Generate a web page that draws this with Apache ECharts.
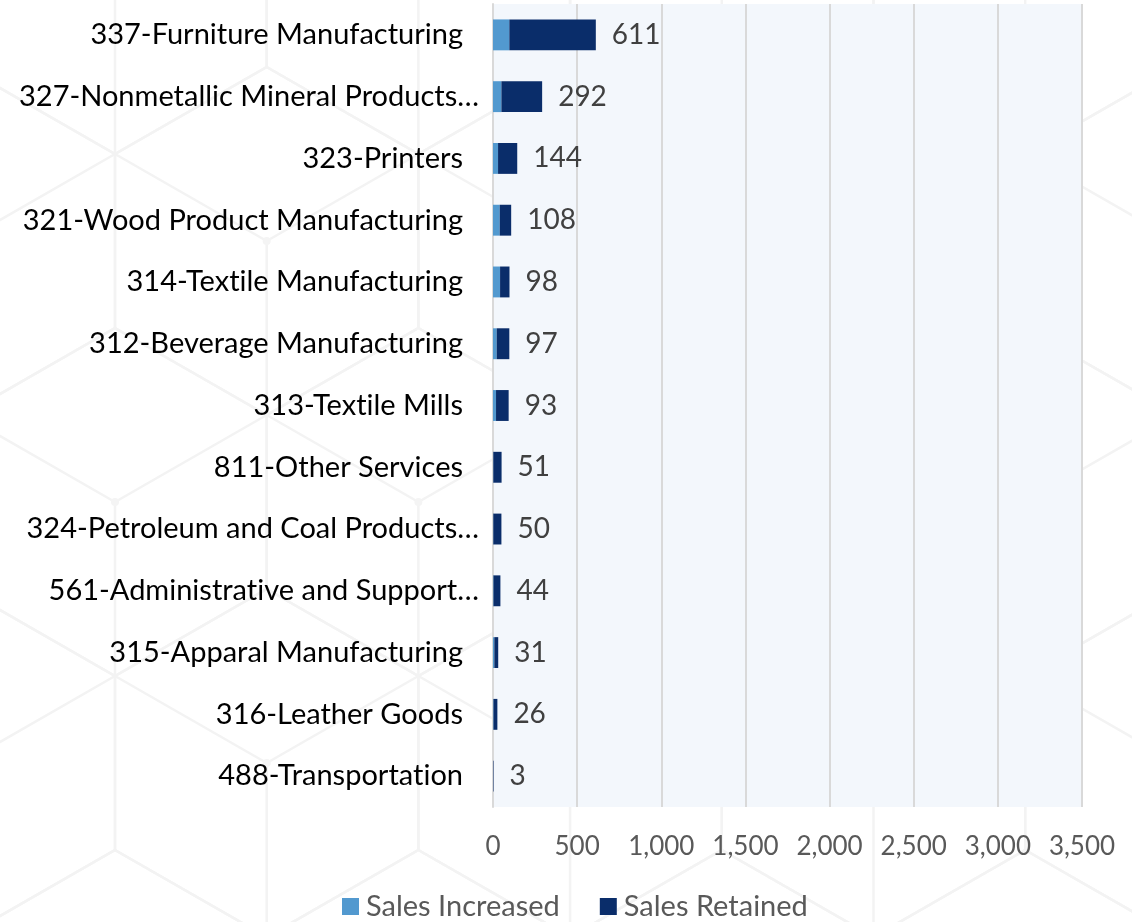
<!DOCTYPE html>
<html>
<head>
<meta charset="utf-8">
<script src="https://cdn.jsdelivr.net/npm/echarts@6/dist/echarts.min.js"></script>
<style>
  html, body { margin: 0; padding: 0; background: #ffffff; }
  #chart { width: 1132px; height: 922px; }
</style>
</head>
<body>
<div id="chart"></div>
<script>
// Industry categories, top to bottom
const categories = [
  '337-Furniture Manufacturing',
  '327-Nonmetallic Mineral Products…',
  '323-Printers',
  '321-Wood Product Manufacturing',
  '314-Textile Manufacturing',
  '312-Beverage Manufacturing',
  '313-Textile Mills',
  '811-Other Services',
  '324-Petroleum and Coal Products…',
  '561-Administrative and Support…',
  '315-Apparal Manufacturing',
  '316-Leather Goods',
  '488-Transportation'
];

// Total businesses per industry (shown at the end of each bar)
const totals = [611, 292, 144, 108, 98, 97, 93, 51, 50, 44, 31, 26, 3];

// Businesses whose sales increased
const salesIncreased = [97, 50, 30, 40, 42, 22, 18, 2, 2, 3, 8, 3, 0];

// Remaining part of each total: businesses whose sales were retained
const salesRetained = totals.map((t, i) => t - salesIncreased[i]);

const xTicks = { min: 0, max: 3500, interval: 500 };

const FONT = 'Lato';

// Break the "ti" ligature that Lato would otherwise draw
const noLig = s => String(s).replace(/ti/g, 't\u200Ci').replace(/fi/g, 'f\u200Ci');

// Category axis runs top to bottom, so reverse for ECharts' bottom-up ordering.
// Shortened names let their ellipsis hang a little past the label edge.
const cats = categories.slice().reverse().map(c =>
  c.endsWith('…') ? { value: c, textStyle: { padding: [0, -16, 0, 0] } } : c
);
const inc = salesIncreased.slice().reverse();
const ret = salesRetained.slice().reverse();
const tot = totals.slice().reverse();

// Faint hexagon / cube backdrop pattern
function hexPattern() {
  const s = 174, hw = 151.7, rowH = 261;
  const items = [];
  const stroke = { stroke: '#F3F3F3', lineWidth: 2.5, lineCap: 'round' };
  for (let n = -1; n <= 5; n++) {
    const cy = 1024 - rowH * n;
    const off = (n % 2 !== 0) ? hw : 0;
    for (let k = -2; k <= 5; k++) {
      const cx = 115 + off + 2 * hw * k;
      const v = [
        [cx, cy - s], [cx + hw, cy - s / 2], [cx + hw, cy + s / 2],
        [cx, cy + s], [cx - hw, cy + s / 2], [cx - hw, cy - s / 2]
      ];
      items.push({
        type: 'polygon', silent: true, z: -100,
        shape: { points: v },
        style: Object.assign({ fill: 'none' }, stroke)
      });
      // inner lines: centre to upper-left, upper-right and bottom corners
      [v[5], v[1], v[3]].forEach(p => items.push({
        type: 'line', silent: true, z: -100,
        shape: { x1: cx, y1: cy, x2: p[0], y2: p[1] },
        style: stroke
      }));
      items.push({
        type: 'circle', silent: true, z: -100,
        shape: { cx: cx, cy: cy, r: 4 },
        style: { fill: '#F4F4F4' }
      });
    }
  }
  return items;
}

const chart = echarts.init(document.getElementById('chart'), null, { renderer: 'canvas' });

chart.setOption({
  backgroundColor: '#ffffff',
  animation: false,
  graphic: { elements: hexPattern() },
  grid: {
    left: 493, right: 50, top: 4, bottom: 115,
    show: true,
    backgroundColor: '#F3F7FC',
    borderWidth: 0
  },
  legend: {
    top: 887,
    left: 337,
    itemWidth: 17,
    itemHeight: 17,
    itemGap: 40,
    icon: 'rect',
    textStyle: { fontFamily: FONT, fontSize: 29, color: '#595959', padding: [0, 0, 0, 2] },
    data: ['Sales Increased', 'Sales Retained']
  },
  xAxis: {
    type: 'value',
    min: xTicks.min,
    max: xTicks.max,
    interval: xTicks.interval,
    axisLine: { show: false },
    axisTick: { show: false },
    splitLine: { show: true, lineStyle: { color: '#D9D9D9', width: 2 } },
    axisLabel: {
      margin: 27,
      fontFamily: FONT,
      fontSize: 26,
      color: '#595959',
      formatter: v => v.toLocaleString('en-US')
    }
  },
  yAxis: {
    type: 'category',
    data: cats,
    axisLine: { show: true, lineStyle: { color: '#D9D9D9', width: 2 } },
    axisTick: { show: false },
    axisLabel: {
      margin: 30,
      fontFamily: FONT,
      fontSize: 29,
      color: '#000000',
      formatter: v => noLig(v)
    }
  },
  series: [
    {
      name: 'Sales Increased',
      type: 'bar',
      stack: 'sales',
      barWidth: '50%',
      itemStyle: { color: '#5299CF' },
      data: inc
    },
    {
      name: 'Sales Retained',
      type: 'bar',
      stack: 'sales',
      barWidth: '50%',
      itemStyle: { color: '#0A2D6A' },
      label: {
        show: true,
        position: 'right',
        distance: 16,
        fontFamily: FONT,
        fontSize: 28,
        color: '#404040',
        formatter: p => tot[p.dataIndex]
      },
      data: ret
    }
  ]
});
</script>
</body>
</html>
